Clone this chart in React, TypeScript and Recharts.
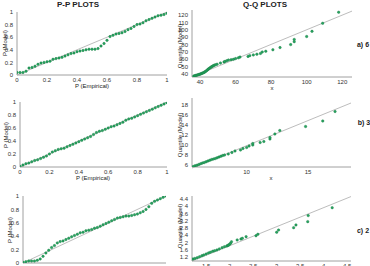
import { ScatterChart, Scatter, XAxis, YAxis, ReferenceLine } from 'recharts'

/* ---------- data ---------- */

// P-P: empirical probabilities (shared) and model probabilities per case
const EMP = [0, 0.02, 0.04, 0.06, 0.08, 0.1, 0.12, 0.14, 0.16, 0.18, 0.2, 0.22, 0.24, 0.26, 0.28, 0.3, 0.32, 0.34, 0.36, 0.38, 0.4, 0.42, 0.44, 0.46, 0.48, 0.5, 0.52, 0.54, 0.56, 0.58, 0.6, 0.62, 0.64, 0.66, 0.68, 0.7, 0.72, 0.74, 0.76, 0.78, 0.8, 0.82, 0.84, 0.86, 0.88, 0.9, 0.92, 0.94, 0.96, 0.98, 1]
const PP_A = [0.04, 0.04, 0.04, 0.06, 0.11, 0.12, 0.14, 0.17, 0.19, 0.2, 0.21, 0.22, 0.25, 0.26, 0.27, 0.28, 0.3, 0.32, 0.34, 0.35, 0.37, 0.38, 0.39, 0.4, 0.41, 0.41, 0.41, 0.42, 0.46, 0.5, 0.55, 0.61, 0.63, 0.65, 0.66, 0.67, 0.69, 0.72, 0.74, 0.77, 0.8, 0.81, 0.83, 0.86, 0.88, 0.9, 0.92, 0.94, 0.95, 0.96, 0.98]
const PP_B = [0.01, 0.03, 0.05, 0.06, 0.08, 0.1, 0.11, 0.13, 0.15, 0.17, 0.2, 0.23, 0.25, 0.27, 0.28, 0.29, 0.31, 0.33, 0.35, 0.37, 0.39, 0.41, 0.43, 0.45, 0.47, 0.5, 0.53, 0.55, 0.56, 0.58, 0.6, 0.62, 0.63, 0.65, 0.67, 0.69, 0.72, 0.74, 0.75, 0.77, 0.79, 0.81, 0.83, 0.85, 0.87, 0.89, 0.91, 0.93, 0.95, 0.97, 0.99]
const PP_C = [0.01, 0.02, 0.03, 0.03, 0.03, 0.04, 0.06, 0.1, 0.15, 0.19, 0.23, 0.26, 0.3, 0.32, 0.33, 0.35, 0.37, 0.39, 0.41, 0.43, 0.45, 0.46, 0.48, 0.49, 0.5, 0.52, 0.53, 0.55, 0.57, 0.59, 0.61, 0.63, 0.65, 0.67, 0.68, 0.69, 0.7, 0.7, 0.71, 0.72, 0.73, 0.75, 0.77, 0.8, 0.84, 0.89, 0.92, 0.94, 0.96, 0.98, 1]

// Q-Q: x (empirical quantile) vs model quantile
const QA_X = [36.5, 37, 37.5, 38, 38.5, 39, 39.5, 40, 40.5, 41, 41.5, 42, 42.5, 43, 43.5, 44, 44.5, 45, 45.5, 46, 46.5, 47, 47.5, 48, 48.7, 49.6, 51.5, 53.5, 54, 55, 56, 57.5, 58.8, 60, 61.6, 62.5, 67, 68, 70, 72, 74, 75, 77, 81, 85, 91, 93, 93, 100, 103, 109, 118]
const QA_Y = [37.2, 37.6, 38, 38.3, 38.7, 39.1, 39.5, 39.9, 40.3, 40.8, 41.3, 41.9, 42.6, 43.4, 44.3, 45.3, 46.4, 47.3, 48.2, 49, 49.8, 50.6, 51.3, 52, 52.6, 53.4, 55, 56.5, 57, 58, 59, 59.5, 60, 61, 62, 63, 64, 65, 66, 67, 68, 70, 71, 73, 76, 80, 84, 87, 91, 98, 109, 124]

const QB_X = [5.65, 5.8, 5.95, 6.1, 6.25, 6.4, 6.55, 6.7, 6.85, 7, 7.15, 7.3, 7.45, 7.6, 7.75, 7.9, 8.05, 8.2, 8.5, 8.8, 9.05, 9.5, 9.7, 10, 10.2, 10.5, 10.5, 11.1, 11.4, 11.9, 11.9, 12.3, 12.7, 14.8, 16.2, 17.2]
const QB_Y = [5.7, 5.85, 5.95, 6.1, 6.25, 6.4, 6.5, 6.65, 6.8, 6.95, 7.1, 7.2, 7.3, 7.45, 7.6, 7.75, 7.9, 8, 8.2, 8.5, 8.8, 9, 9.3, 9.5, 9.8, 10, 10.3, 10.5, 10.7, 11.2, 11.5, 12.2, 12.9, 13.7, 14.8, 16.7]

const QC_X = [1.22, 1.26, 1.31, 1.36, 1.41, 1.45, 1.5, 1.55, 1.59, 1.64, 1.68, 1.73, 1.78, 1.84, 1.89, 1.94, 1.96, 1.98, 2, 2.02, 2.04, 2.16, 2.24, 2.27, 2.35, 2.56, 2.6, 3, 3.04, 3.36, 3.41, 3.66, 3.67, 4.18]
const QC_Y = [1.11, 1.14, 1.18, 1.23, 1.29, 1.33, 1.38, 1.44, 1.48, 1.53, 1.56, 1.6, 1.66, 1.73, 1.78, 1.82, 1.85, 1.87, 1.92, 1.97, 2.05, 2.15, 2.2, 2.24, 2.33, 2.38, 2.46, 2.57, 2.69, 2.82, 2.97, 3.15, 3.48, 3.91]

const PP_TICKS = [0, 0.2, 0.4, 0.6, 0.8, 1]
const QA_XT = [40, 60, 80, 100, 120]
const QA_YT = [40, 50, 60, 70, 80, 90, 100, 110, 120]
const QB_XT = [10, 15]
const QB_YT = [6, 8, 10, 12, 14, 16, 18]
const QC_XT = [1.5, 2, 2.5, 3, 3.5, 4, 4.5]
const QC_YT = [1.2, 1.6, 2, 2.4, 2.8, 3.2, 3.6, 4, 4.4]

/* ---------- style ---------- */

const FONT = '"Liberation Sans", Arial, sans-serif'
const TICK = { fill: '#333', fontSize: 6, fontFamily: FONT }
const BORDER = { stroke: '#a0a0a0', strokeWidth: 1 }
const REF = '#bdbdbd'

const zip = (xs: number[], ys: number[]) => xs.map((x, i) => ({ x, y: ys[i] }))

const Dot = (p: any) => (
  <circle cx={p.cx} cy={p.cy} r={1.25} fill="#27a461" stroke="#14783f" strokeWidth={0.4} />
)

type Box = { x: number; y: number; w: number; h: number }

function Panel({ box, xd, yd, xt, yt, data, line }: {
  box: Box; xd: number[]; yd: number[]; xt: number[]; yt: number[]
  data: { x: number; y: number }[]; line: number[]
}) {
  return (
    <div style={{ position: 'absolute', left: box.x - 40, top: box.y - 5 }}>
      <ScatterChart width={box.w + 45} height={box.h + 25} margin={{ top: 5, right: 5, left: 0, bottom: 0 }}>
        <XAxis type="number" dataKey="x" domain={xd} ticks={xt} interval={0} allowDataOverflow
          tick={TICK} tickLine={false} tickSize={1} axisLine={BORDER} height={20} />
        <YAxis type="number" dataKey="y" domain={yd} ticks={yt} interval={0} allowDataOverflow
          tick={TICK} tickLine={false} tickSize={2} axisLine={BORDER} width={40} />
        <XAxis xAxisId="top" orientation="top" type="number" domain={xd} allowDataOverflow
          height={0} tick={false} tickLine={false} axisLine={BORDER} />
        <YAxis yAxisId="right" orientation="right" type="number" domain={yd} allowDataOverflow
          width={0} tick={false} tickLine={false} axisLine={BORDER} />
        <ReferenceLine segment={[{ x: line[0], y: line[1] }, { x: line[2], y: line[3] }]}
          stroke={REF} strokeWidth={1} ifOverflow="visible" />
        <Scatter data={data} shape={Dot} isAnimationActive={false} />
      </ScatterChart>
    </div>
  )
}

function Txt({ x, y, children, rot, size = 6, bold }: {
  x: number; y: number; children: React.ReactNode; rot?: boolean; size?: number; bold?: boolean
}) {
  return (
    <div style={{
      position: 'absolute', left: x, top: y, whiteSpace: 'nowrap', lineHeight: 1,
      transform: `translate(-50%, -50%)${rot ? ' rotate(-90deg)' : ''}`,
      fontSize: size, fontFamily: FONT, fontWeight: bold ? 700 : 400, color: '#222',
    }}>{children}</div>
  )
}

export default function App() {
  return (
    <div style={{ position: 'absolute', left: 0, top: 0, width: 370, height: 266, overflow: 'hidden', background: '#fff' }}>
      <Txt x={78} y={5} size={8} bold>P-P PLOTS</Txt>
      <Txt x={265} y={5} size={8} bold>Q-Q PLOTS</Txt>

      {/* a) 6 */}
      <Panel box={{ x: 17, y: 12, w: 150, h: 63 }} xd={[0, 1]} yd={[0, 1]} xt={PP_TICKS} yt={PP_TICKS}
        data={zip(EMP, PP_A)} line={[0, 0, 1, 1]} />
      <Panel box={{ x: 192, y: 10, w: 160, h: 67 }} xd={[35.5, 125.5]} yd={[36, 127]} xt={QA_XT} yt={QA_YT}
        data={zip(QA_X, QA_Y)} line={[36, 36.5, 125.5, 125.5]} />
      <Txt x={92} y={86}>P (Empirical)</Txt>
      <Txt x={272} y={88}>x</Txt>
      <Txt x={5} y={43} rot>P (Model)</Txt>
      <Txt x={180} y={46} rot>Quantile (Model)</Txt>
      <Txt x={363} y={44} size={7} bold>a) 6</Txt>

      {/* b) 3 */}
      <Panel box={{ x: 20, y: 102, w: 147, h: 65 }} xd={[0, 1]} yd={[0, 1]} xt={PP_TICKS} yt={PP_TICKS}
        data={zip(EMP, PP_B)} line={[0, 0, 1, 1]} />
      <Panel box={{ x: 192, y: 98, w: 159, h: 69 }} xd={[5.55, 18.5]} yd={[5.6, 19.4]} xt={QB_XT} yt={QB_YT}
        data={zip(QB_X, QB_Y)} line={[5.55, 5.4, 18.5, 18.4]} />
      <Txt x={93} y={178}>P (Empirical)</Txt>
      <Txt x={271} y={178}>x</Txt>
      <Txt x={6} y={135} rot>P (Model)</Txt>
      <Txt x={180} y={135} rot>Quantile (Model)</Txt>
      <Txt x={364} y={122} size={7} bold>b) 3</Txt>

      {/* c) 2 */}
      <Panel box={{ x: 23, y: 196, w: 143, h: 67 }} xd={[0, 1]} yd={[0, 1]} xt={PP_TICKS} yt={PP_TICKS}
        data={zip(EMP, PP_C)} line={[0, 0, 1, 1]} />
      <Panel box={{ x: 192, y: 196, w: 159, h: 65 }} xd={[1.2, 4.58]} yd={[1.0, 4.55]} xt={QC_XT} yt={QC_YT}
        data={zip(QC_X, QC_Y)} line={[1.2, 1.0, 4.58, 4.52]} />
      <Txt x={10} y={230} rot>P (Model)</Txt>
      <Txt x={180} y={226} rot>Quantile (Model)</Txt>
      <Txt x={363} y={230} size={7} bold>c) 2</Txt>
    </div>
  )
}
